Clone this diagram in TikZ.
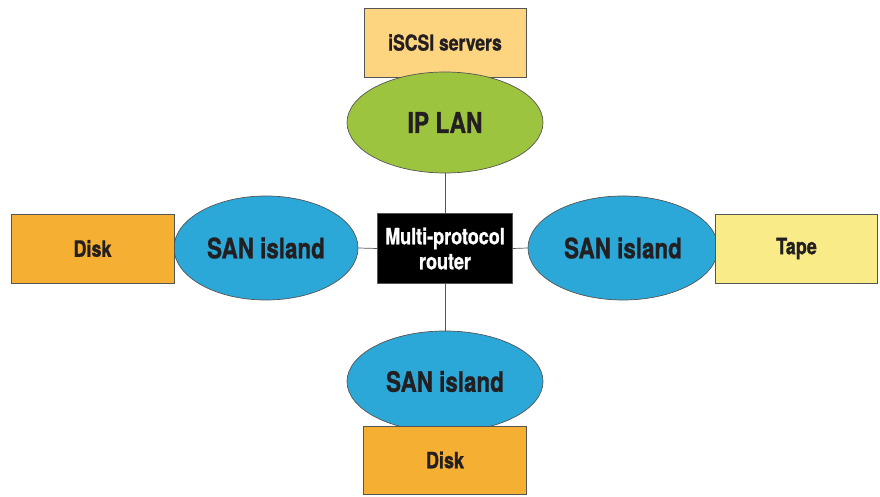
\documentclass[tikz,border=0pt]{standalone}
\usepackage{fontspec}
\setmainfont{TeX Gyre Heros}[FakeStretch=0.8,BoldFeatures={FakeBold=1}]
\usetikzlibrary{shapes.geometric}
\definecolor{iscsicol}{HTML}{FDD480}
\definecolor{lancol}{HTML}{9DC43F}
\definecolor{sancol}{HTML}{2BA8D8}
\definecolor{diskcol}{HTML}{F5AF33}
\definecolor{tapecol}{HTML}{F9EC88}
\definecolor{edgecol}{HTML}{555555}
\definecolor{txtcol}{HTML}{231F20}
\tikzset{
  x=1pt,y=1pt,
  box/.style={draw=edgecol,line width=0.7pt,rectangle,inner sep=0pt,font=\bfseries\fontsize{22.5}{25}\selectfont,text=txtcol},
  oval/.style={draw=edgecol,line width=0.7pt,ellipse,inner sep=0pt,fill=sancol,font=\bfseries\fontsize{28}{30}\selectfont,text=txtcol},
  link/.style={draw=edgecol,line width=0.7pt}
}
\begin{document}
\begin{tikzpicture}
\useasboundingbox (0,0) rectangle (880,497);
\node[box,fill=iscsicol,minimum width=162pt,minimum height=69pt,font=\bfseries\fontsize{22}{24}\selectfont] (iscsi) at (445,454.5) {iSCSI servers};
\node[oval,fill=lancol,minimum width=196pt,minimum height=101pt,font=\bfseries\fontsize{28.5}{30}\selectfont] (iplan) at (445,374.5) {IP LAN};
\node[box,fill=black,text=white,minimum width=135pt,minimum height=70pt,align=center,font=\bfseries\fontsize{22.5}{25}\selectfont] (router) at (445,248.5) {Multi-protocol\\router};
\node[oval,minimum width=184pt,minimum height=104pt] (sanl) at (266,249) {SAN island};
\node[box,fill=diskcol,minimum width=163pt,minimum height=69pt] (diskl) at (92.5,248.5) {Disk};
\node[oval,minimum width=190pt,minimum height=104pt] (sanr) at (623,249) {SAN island};
\node[box,fill=tapecol,minimum width=162pt,minimum height=69pt] (tape) at (796.5,248.5) {Tape};
\node[oval,minimum width=196pt,minimum height=101pt] (sanb) at (445,115.5) {SAN island};
\node[box,fill=diskcol,minimum width=163pt,minimum height=68pt] (diskb) at (445,37) {Disk};
\draw[link] (iplan.south) -- (router.north);
\draw[link] (sanl.east) -- (router.west);
\draw[link] (router.east) -- (sanr.west);
\draw[link] (router.south) -- (sanb.north);
\end{tikzpicture}
\end{document}
